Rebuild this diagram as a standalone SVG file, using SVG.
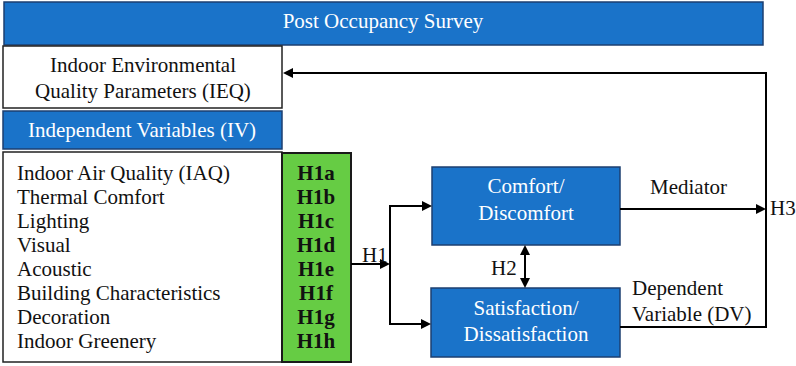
<svg xmlns="http://www.w3.org/2000/svg" width="796" height="366" viewBox="0 0 796 366">
<defs>
<style>
.w{fill:#fff}
.k{fill:#111}
.b{font-weight:bold}
.blue{fill:#1a73c9;stroke:#1d3f70;stroke-width:1.5}
.box{fill:#fff;stroke:#222;stroke-width:1.5}
.ln{fill:none;stroke:#000;stroke-width:2}
.ah{fill:#000}
</style>
</defs>
<g id="survey">
<rect class="blue" x="4" y="2" width="759" height="43"/>
<text class="w" x="383" y="28" font-size="21" font-family="Liberation Serif" text-anchor="middle">Post Occupancy Survey</text>
</g>
<g id="ieq">
<rect class="box" x="3" y="46" width="279" height="62"/>
<text class="k" x="143" y="72" font-size="21" font-family="Liberation Serif" text-anchor="middle">Indoor Environmental</text>
<text class="k" x="143" y="98" font-size="21" font-family="Liberation Serif" text-anchor="middle">Quality Parameters (IEQ)</text>
</g>
<g id="iv">
<rect class="blue" x="3" y="111" width="279" height="38"/>
<text class="w" x="142" y="137" font-size="21" font-family="Liberation Serif" text-anchor="middle">Independent Variables (IV)</text>
</g>
<g id="variables">
<rect class="box" x="3" y="152" width="279" height="210"/>
<text class="k" x="17" y="180" font-size="21" font-family="Liberation Serif">Indoor Air Quality (IAQ)</text>
<text class="k" x="17" y="204" font-size="21" font-family="Liberation Serif">Thermal Comfort</text>
<text class="k" x="17" y="228" font-size="21" font-family="Liberation Serif">Lighting</text>
<text class="k" x="17" y="252" font-size="21" font-family="Liberation Serif">Visual</text>
<text class="k" x="17" y="276" font-size="21" font-family="Liberation Serif">Acoustic</text>
<text class="k" x="17" y="300" font-size="21" font-family="Liberation Serif">Building Characteristics</text>
<text class="k" x="17" y="324" font-size="21" font-family="Liberation Serif">Decoration</text>
<text class="k" x="17" y="348" font-size="21" font-family="Liberation Serif">Indoor Greenery</text>
</g>
<g id="hypotheses">
<rect x="282" y="153" width="69" height="209" fill="#66cc44" stroke="#1a1a1a" stroke-width="2"/>
<text class="k b" x="316" y="180" font-size="21" font-family="Liberation Serif" text-anchor="middle">H1a</text>
<text class="k b" x="316" y="204" font-size="21" font-family="Liberation Serif" text-anchor="middle">H1b</text>
<text class="k b" x="316" y="228" font-size="21" font-family="Liberation Serif" text-anchor="middle">H1c</text>
<text class="k b" x="316" y="252" font-size="21" font-family="Liberation Serif" text-anchor="middle">H1d</text>
<text class="k b" x="316" y="276" font-size="21" font-family="Liberation Serif" text-anchor="middle">H1e</text>
<text class="k b" x="316" y="300" font-size="21" font-family="Liberation Serif" text-anchor="middle">H1f</text>
<text class="k b" x="316" y="324" font-size="21" font-family="Liberation Serif" text-anchor="middle">H1g</text>
<text class="k b" x="316" y="348" font-size="21" font-family="Liberation Serif" text-anchor="middle">H1h</text>
</g>
<g id="comfort">
<rect class="blue" x="432" y="167" width="188" height="78"/>
<text class="w" x="526" y="193" font-size="21" font-family="Liberation Serif" text-anchor="middle">Comfort/</text>
<text class="w" x="526" y="220" font-size="21" font-family="Liberation Serif" text-anchor="middle">Discomfort</text>
</g>
<g id="satisfaction">
<rect class="blue" x="431" y="288" width="189" height="69"/>
<text class="w" x="526" y="315" font-size="21" font-family="Liberation Serif" text-anchor="middle">Satisfaction/</text>
<text class="w" x="526" y="341" font-size="21" font-family="Liberation Serif" text-anchor="middle">Dissatisfaction</text>
</g>
<g id="connectors">
<path class="ln" d="M351,264 H382"/>
<polygon class="ah" points="390,264 380,259 380,269"/>
<path class="ln" d="M424,206 H390 V324 H424"/>
<polygon class="ah" points="432,206 422,201 422,211"/>
<polygon class="ah" points="431,324 421,319 421,329"/>
<path class="ln" d="M525,253 V281"/>
<polygon class="ah" points="525,245 520,255 530,255"/>
<polygon class="ah" points="525,288 520,278 530,278"/>
<path class="ln" d="M620,209 H758"/>
<polygon class="ah" points="766,209 756,204 756,214"/>
<path class="ln" d="M620,327 H766 V73 H291"/>
<polygon class="ah" points="283,73 293,68 293,78"/>
<text class="k" x="362" y="262" font-size="21" font-family="Liberation Serif">H1</text>
<text class="k" x="491" y="275" font-size="21" font-family="Liberation Serif">H2</text>
<text class="k" x="770" y="215" font-size="21" font-family="Liberation Serif">H3</text>
<text class="k" x="650" y="194" font-size="21" font-family="Liberation Serif">Mediator</text>
<text class="k" x="632" y="295" font-size="21" font-family="Liberation Serif">Dependent</text>
<text class="k" x="632" y="321" font-size="21" font-family="Liberation Serif">Variable (DV)</text>
</g>
</svg>
